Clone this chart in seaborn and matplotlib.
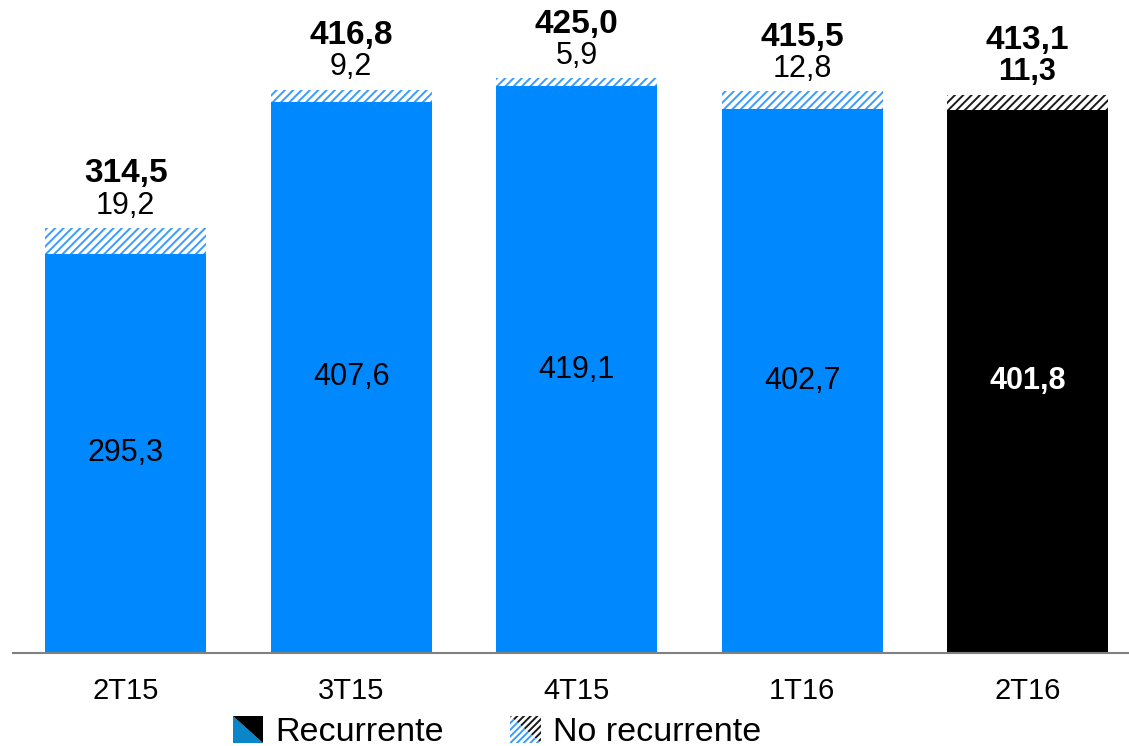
import matplotlib
matplotlib.use("Agg")
import matplotlib.pyplot as plt
import seaborn as sns
import pandas as pd
from matplotlib.legend_handler import HandlerBase
from matplotlib.patches import Polygon, Patch

# Quarterly figures (millions)
periods = ["2T15", "3T15", "4T15", "1T16", "2T16"]
recurrente = [295.3, 407.6, 419.1, 402.7, 401.8]
no_recurrente = [19.2, 9.2, 5.9, 12.8, 11.3]
totales = [314.5, 416.8, 425.0, 415.5, 413.1]

BLUE = "#0088FF"
BLUE_HATCH = "#3A9CFF"
LEGEND_BLUE = "#0A86C8"
BLACK = "#000000"

sns.set_theme(style="white")
plt.rcParams["font.family"] = ["Liberation Sans", "DejaVu Sans"]
plt.rcParams["text.color"] = "black"
plt.rcParams["xtick.color"] = "black"
plt.rcParams["hatch.linewidth"] = 1.4


def fmt(v):
    return f"{v:.1f}".replace(".", ",")


df = pd.DataFrame({
    "periodo": periods,
    "recurrente": recurrente,
    "no_recurrente": no_recurrente,
    "total": totales,
})
highlight = periods[-1]
palette = {p: (BLACK if p == highlight else BLUE) for p in periods}

fig = plt.figure(figsize=(11.29, 7.46), dpi=100)
ax = fig.add_axes([13 / 1129, 93 / 746, 1 - 13 / 1129, 653 / 746])

# Hatched full-height bars (total), then solid recurring part on top
sns.barplot(data=df, x="periodo", y="total", hue="periodo", palette=palette,
            width=0.714, saturation=1, legend=False, linewidth=0, ax=ax)
hatched = list(ax.patches)
for p, per in zip(hatched, periods):
    p.set_facecolor("white")
    p.set_edgecolor("#1a1a1a" if per == highlight else BLUE_HATCH)
    p.set_hatch("////")
    p.set_linewidth(0)

sns.barplot(data=df, x="periodo", y="recurrente", hue="periodo", palette=palette,
            width=0.714, saturation=1, legend=False, linewidth=0, ax=ax)

for i, per in enumerate(periods):
    last = per == highlight
    ax.text(i, recurrente[i] / 2, fmt(recurrente[i]), ha="center", va="center",
            fontsize=22, color="white" if last else "black",
            fontweight="bold" if last else "normal")
    ax.annotate(fmt(no_recurrente[i]), xy=(i, totales[i]), xytext=(0, 16),
                textcoords="offset points", ha="center", va="center",
                fontsize=22, color="black",
                fontweight="bold" if last else "normal")
    ax.annotate(fmt(totales[i]), xy=(i, totales[i]), xytext=(0, 39),
                textcoords="offset points", ha="center", va="center",
                fontsize=24, color="black", fontweight="bold")

ax.set_xlim(-0.5, 4.45)
ax.set_ylim(0, 483)
ax.set_xlabel("")
ax.set_ylabel("")
ax.set_yticks([])
ax.tick_params(axis="x", length=0, pad=17, labelsize=21, labelcolor="black")
for side in ["top", "left", "right"]:
    ax.spines[side].set_visible(False)
ax.spines["bottom"].set_color("#808080")
ax.spines["bottom"].set_linewidth(1.5)


class SplitSwatch(HandlerBase):
    """Square swatch split along its diagonal into two colours."""

    def __init__(self, lower, upper, hatch=None):
        super().__init__()
        self.lower = lower
        self.upper = upper
        self.hatch = hatch

    def create_artists(self, legend, orig_handle, xdescent, ydescent,
                       width, height, fontsize, trans):
        x0, y0 = -xdescent, -ydescent
        x1, y1 = x0 + width, y0 + height
        lower_tri = [[x0, y1], [x0, y0], [x1, y0]]
        upper_tri = [[x0, y1], [x1, y1], [x1, y0]]
        artists = []
        for pts, col in ((lower_tri, self.lower), (upper_tri, self.upper)):
            if self.hatch:
                poly = Polygon(pts, closed=True, facecolor="white",
                               edgecolor=col, hatch=self.hatch, linewidth=0)
            else:
                poly = Polygon(pts, closed=True, facecolor=col,
                               edgecolor="none", linewidth=0)
            poly.set_transform(trans)
            artists.append(poly)
        return artists


h_rec = Patch(label="Recurrente")
h_norec = Patch(label="No recurrente")
fig.legend(handles=[h_rec, h_norec], labels=["Recurrente", "No recurrente"],
           handler_map={h_rec: SplitSwatch(LEGEND_BLUE, BLACK),
                        h_norec: SplitSwatch(BLUE_HATCH, "#1a1a1a", hatch="/////")},
           loc="center", bbox_to_anchor=(0.440, 14 / 746), ncol=2,
           frameon=False, fontsize=24.5, borderpad=0, handlelength=0.9,
           handleheight=0.85, handletextpad=0.35, columnspacing=1.95)

fig.savefig("out.png", dpi=100)
